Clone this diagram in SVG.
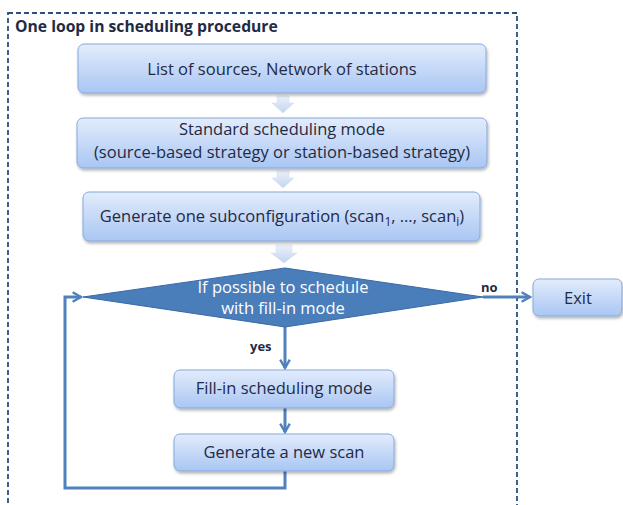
<svg xmlns="http://www.w3.org/2000/svg" width="623" height="505" viewBox="0 0 623 505">
<defs>
<linearGradient id="bg" x1="0" y1="0" x2="0" y2="1">
<stop offset="0" stop-color="#e3ecfc"/>
<stop offset="1" stop-color="#a9c6f3"/>
</linearGradient>
<linearGradient id="ag" x1="0" y1="0" x2="0" y2="1">
<stop offset="0" stop-color="#eaf0fa"/>
<stop offset="1" stop-color="#c3d5ef"/>
</linearGradient>
<filter id="sh" x="-10%" y="-20%" width="120%" height="150%">
<feDropShadow dx="1" dy="2" stdDeviation="1.5" flood-color="#000" flood-opacity="0.3"/>
</filter>
<marker id="ah" viewBox="0 0 10 10" refX="8" refY="5" markerWidth="4" markerHeight="4" orient="auto" markerUnits="strokeWidth">
<path d="M1,1 L8,5 L1,9" fill="none" stroke="#4f81bd" stroke-width="2"/>
</marker>
</defs>
<style>
.box{fill:url(#bg);stroke:#86a9dc;stroke-width:1;filter:url(#sh)}
.t{font-family:"Open Sans","Liberation Sans",sans-serif;font-size:16.5px;fill:#1f2a44;text-anchor:middle}
.w{fill:#ffffff}
.lab{font-family:"Open Sans","Liberation Sans",sans-serif;font-size:13px;font-weight:bold;fill:#1f2a44}
.ln{fill:none;stroke:#4f81bd;stroke-width:3}
.blk{fill:url(#ag);stroke:#d0dcee;stroke-width:0.5}
</style>
<rect x="8" y="13" width="509" height="500" fill="none" stroke="#2f4f7a" stroke-width="1.8" stroke-dasharray="5,3"/>
<text x="15" y="32" font-family="Open Sans,Liberation Sans,sans-serif" font-size="15.7" font-weight="bold" fill="#1f2a44">One loop in scheduling procedure</text>

<g id="connectors">
<polygon class="blk" points="277,96 289,96 289,103 294,103 283,113 272,103 277,103"/>
<polygon class="blk" points="277,171 289,171 289,178 294,178 283,188 272,178 277,178"/>
<polygon class="blk" points="276,245 292,245 292,253 297,253 284,263 271,253 276,253"/>
<line class="ln" x1="285" y1="327" x2="285" y2="368" marker-end="url(#ah)"/>
<line class="ln" x1="285" y1="408" x2="285" y2="432" marker-end="url(#ah)"/>
<polyline class="ln" points="285,471 285,488 65,488 65,297 81,297" marker-end="url(#ah)"/>
<line class="ln" x1="483" y1="297" x2="530" y2="297" marker-end="url(#ah)"/>
<text class="lab" x="481" y="292">no</text>
<text class="lab" x="250" y="351">yes</text>
</g>

<g id="n1">
<rect class="box" x="78" y="44" width="408" height="49" rx="6"/>
<text class="t" x="282" y="75">List of sources, Network of stations</text>
</g>
<g id="n2">
<rect class="box" x="77" y="118" width="410" height="50" rx="6"/>
<text class="t" x="282" y="135">Standard scheduling mode</text>
<text class="t" x="282" y="158">(source-based strategy or station-based strategy)</text>
</g>
<g id="n3">
<rect class="box" x="83" y="192" width="397" height="49" rx="6"/>
<text class="t" x="282" y="222">Generate one subconfiguration (scan<tspan font-size="12" dy="4">1</tspan><tspan dy="-4">, …, scan</tspan><tspan font-size="12" dy="4">i</tspan><tspan dy="-4">)</tspan></text>
</g>
<g id="decision">
<polygon points="83,297 285,268 483,297 285,327" fill="#4a7ebb" stroke="#3a6aa3" stroke-width="1"/>
<text class="t w" x="283" y="293">If possible to schedule</text>
<text class="t w" x="283" y="314">with fill-in mode</text>
</g>
<g id="exit">
<rect class="box" x="533" y="279" width="89" height="37" rx="6"/>
<text class="t" x="578" y="304">Exit</text>
</g>
<g id="fill">
<rect class="box" x="174" y="370" width="220" height="38" rx="6"/>
<text class="t" x="284" y="394">Fill-in scheduling mode</text>
</g>
<g id="gen">
<rect class="box" x="174" y="434" width="220" height="37" rx="6"/>
<text class="t" x="284" y="458">Generate a new scan</text>
</g>
</svg>
